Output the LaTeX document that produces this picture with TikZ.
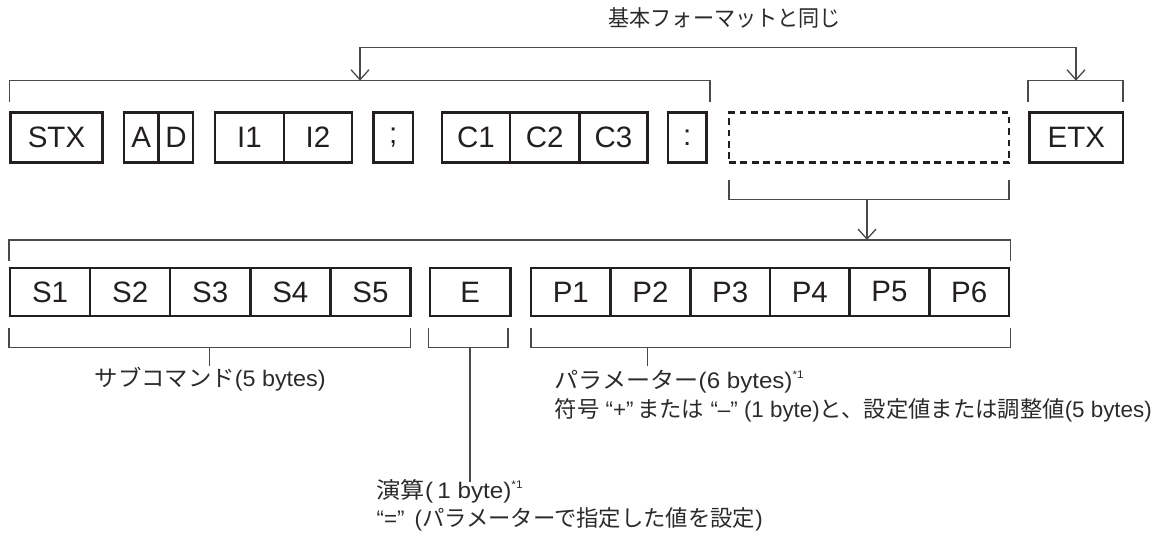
\documentclass[tikz,border=0pt]{standalone}
\usepackage{fontspec}
\usepackage{graphicx}
\setmainfont{Noto Sans CJK JP}
\newfontfamily\lat{Liberation Sans}
\usetikzlibrary{arrows.meta}
\definecolor{boxc}{HTML}{231F20}
\definecolor{brc}{HTML}{4A4A4A}
\definecolor{txt}{HTML}{231F20}
\definecolor{txtb}{HTML}{2B2B2B}
\newcommand\myfn{\raisebox{0.8ex}{\lat\fontsize{11}{11}\selectfont *1}}
\newcommand\fitw[2]{\resizebox{#1pt}{\height}{#2}}
\begin{document}
\begin{tikzpicture}[x=1pt,y=-1pt,
  cell/.style={draw=boxc, line width=2.4pt, inner sep=0pt, outer sep=0pt,
    font=\lat\fontsize{29.5}{31}\selectfont, text=txt},
  rowa/.style={cell, minimum height=50pt},
  rowb/.style={cell, minimum height=48.3pt},
  brk/.style={draw=brc, line width=1.3pt},
  tipv/.tip={Straight Barb[length=10pt,width=18pt]},
  lbl/.style={anchor=base west, inner sep=0pt, text=txtb,
    font=\fontsize{22.5}{25}\selectfont}]
\useasboundingbox (0,0) rectangle (1159,534);

% ---- row 1
\node[rowa, minimum width=92pt]   (stx) at (56.5,137.7) {STX};
\node[rowa, minimum width=34.7pt] (a)   at (141.3,137.7) {A};
\node[rowa, minimum width=34.3pt] (d)   at (175.9,137.7) {D};
\node[rowa, minimum width=68.8pt] (i1)  at (249.4,137.7) {I1};
\node[rowa, minimum width=68.2pt] (i2)  at (317.9,137.7) {I2};
\node[rowa, minimum width=39.4pt] (semi) at (393.3,137.7) {;};
\node[rowa, minimum width=68.3pt] (c1)  at (475.9,137.7) {C1};
\node[rowa, minimum width=69.3pt] (c2)  at (544.7,137.7) {C2};
\node[rowa, minimum width=68.2pt] (c3)  at (613.4,137.7) {C3};
\node[rowa, minimum width=38.6pt] (colon) at (687.3,137.7) {:};
\node[rowa, minimum width=280pt, dash pattern=on 6.7pt off 4.7pt] (opt) at (869,137.7) {};
\node[rowa, minimum width=93.5pt] (etx) at (1076.3,137.7) {ETX};

% ---- row 2
\foreach \k/\n in {0/1,1/2,2/3,3/4,4/5}{
  \node[rowb, minimum width=80.1pt] (s\n) at ({50.05+80.1*\k},291.9) {S\n};
}
\node[rowb, minimum width=80.6pt] (e) at (470.3,291.9) {E};
\foreach \k/\n in {0/1,1/2,2/3,3/4,4/5,5/6}{
  \node[rowb, minimum width=79.67pt] (p\n) at ({570.8+79.67*\k},291.9) {P\n};
}

% ---- coordinates for brackets
\coordinate (ba1) at (9.2,101.7);  \coordinate (ba2) at (9.2,80.7);
\coordinate (ba3) at (710,80.7);   \coordinate (ba4) at (710,101.7);
\coordinate (be1) at (1028,101.7); \coordinate (be2) at (1028,80.7);
\coordinate (be3) at (1123,80.7);  \coordinate (be4) at (1123,101.7);
\coordinate (ta1) at (360,80.7);   \coordinate (ta2) at (360,47.3);
\coordinate (ta3) at (1076,47.3);  \coordinate (ta4) at (1076,80.7);
\coordinate (bd1) at (729,180);    \coordinate (bd2) at (729,199.3);
\coordinate (bd3) at (1009,199.3); \coordinate (bd4) at (1009,180);
\coordinate (da1) at (867,199.3);  \coordinate (da2) at (867,240);
\coordinate (bt1) at (9,260.7);    \coordinate (bt2) at (9,240);
\coordinate (bt3) at (1010.6,240); \coordinate (bt4) at (1010.6,260.7);
\coordinate (bs1) at (9,327.7);    \coordinate (bs2) at (9,347.7);
\coordinate (bs3) at (410.7,347.7); \coordinate (bs4) at (410.7,327.7);
\coordinate (ss1) at (209.4,347.7); \coordinate (ss2) at (209.4,365.7);
\coordinate (bx1) at (428.5,327.7); \coordinate (bx2) at (428.5,347.7);
\coordinate (bx3) at (508,347.7);  \coordinate (bx4) at (508,327.7);
\coordinate (sx1) at (470,347.7);  \coordinate (sx2) at (470,481.5);
\coordinate (bp1) at (531,327.7);  \coordinate (bp2) at (531,347.7);
\coordinate (bp3) at (1010.6,347.7); \coordinate (bp4) at (1010.6,327.7);
\coordinate (sp1) at (647.7,347.7); \coordinate (sp2) at (647.7,365.7);

% ---- brackets and arrows
\draw[brk] (ba1) -- (ba2) -- (ba3) -- (ba4);
\draw[brk] (be1) -- (be2) -- (be3) -- (be4);
\draw[brk, tipv-tipv] (ta1) -- (ta2) -- (ta3) -- (ta4);
\draw[brk] (bd1) -- (bd2) -- (bd3) -- (bd4);
\draw[brk, -tipv] (da1) -- (da2);
\draw[brk] (bt1) -- (bt2) -- (bt3) -- (bt4);
\draw[brk] (bs1) -- (bs2) -- (bs3) -- (bs4);
\draw[brk] (ss1) -- (ss2);
\draw[brk] (bx1) -- (bx2) -- (bx3) -- (bx4);
\draw[brk] (sx1) -- (sx2);
\draw[brk] (bp1) -- (bp2) -- (bp3) -- (bp4);
\draw[brk] (sp1) -- (sp2);

% ---- labels
\node[lbl] (kihon) at (608.5,26.8) {\fitw{232}{基本フォーマットと同じ}};
\node[lbl] (sub) at (94.5,386.7) {\fitw{231}{サブコマンド{\lat(5 bytes)}}};
\node[lbl] (para) at (554.5,388.3) {\fitw{249}{パラメーター{\lat(6 bytes)}\myfn}};
\node[lbl] (fugo) at (554.5,417.3) {\fitw{597}{符号{\lat\ “+”\,}または{\lat\ “–”\ (1 byte)}と、設定値または調整値{\lat(5 bytes)}}};
\node[lbl] (enzan) at (376.5,498) {\fitw{146}{演算{\lat(\,1 byte)}\myfn}};
\node[lbl] (eq) at (376.5,526.3) {\fitw{386}{{\lat“=”\ \,(}パラメーターで指定した値を設定{\lat)}}};
\end{tikzpicture}
\end{document}
